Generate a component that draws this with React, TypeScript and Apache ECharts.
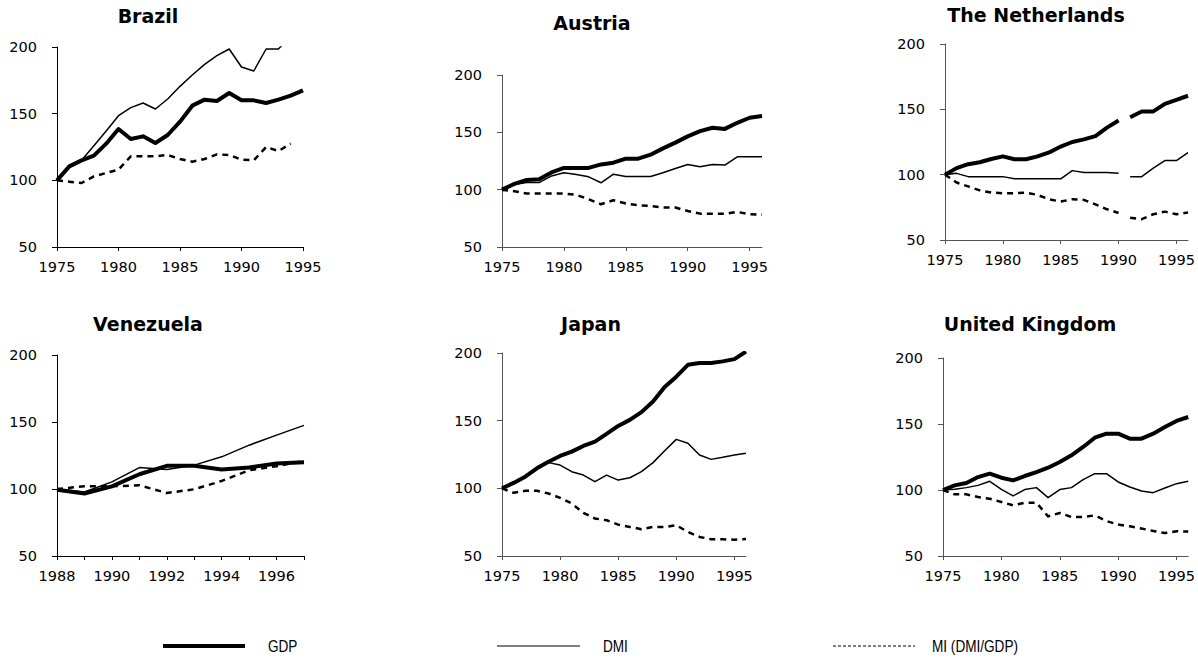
import React, { useEffect, useRef } from 'react';
import * as echarts from 'echarts';

// Year categories
const years7595 = ['1975','1976','1977','1978','1979','1980','1981','1982','1983','1984','1985','1986','1987','1988','1989','1990','1991','1992','1993','1994','1995'];
const years7596 = ['1975','1976','1977','1978','1979','1980','1981','1982','1983','1984','1985','1986','1987','1988','1989','1990','1991','1992','1993','1994','1995','1996'];
const years8897 = ['1988','1989','1990','1991','1992','1993','1994','1995','1996','1997'];

// Index values (base year = 100)
const brazilGdp = [100, 110.5, 115, 118.5, 127.5, 138.5, 131, 133, 128, 134, 144, 156, 160.5, 159.5, 165.5, 160, 160, 158, 160.5, 163.5, 167.5];
const brazilDmi = [100, 111, 115, 126, 137, 148.5, 154.5, 158, 153.5, 161, 170.5, 179, 187, 193.5, 198.5, 185, 182, 198.5, 198.5, 208, null];
const brazilMi = [100, 99, 98, 103, 105.5, 108, 118, 118, 118, 119, 116, 114, 116, 119.5, 119, 115.5, 115, 125, 122, 127.5, null];

const austriaGdp = [100, 105, 108.5, 109, 115, 119, 119, 119, 122, 123.5, 127, 127, 130.5, 136, 141, 146.5, 151, 154, 153, 158.3, 162.7, 164.2];
const austriaDmi = [100, 104.5, 106.2, 106.2, 112, 114.7, 113.2, 111.2, 106, 113.5, 111.5, 111.5, 111.5, 114.7, 118.4, 122, 120, 122, 121.5, 128.6, 128.6, 128.6];
const austriaMi = [100, 98.6, 96.6, 96.6, 96.6, 96.6, 95.5, 91.6, 87.3, 90.8, 87.9, 86.4, 85.8, 84.4, 84.4, 81.4, 79.1, 79.1, 79, 80.6, 78.5, 78.3];

const netherlandsGdp = [100, 105, 108, 109.5, 112, 114, 111.8, 111.8, 114, 117, 121.5, 125, 127, 129.5, 136, 141.5, 144, 148.4, 148.4, 154.2, 157.3, 160.4];
const netherlandsDmi = [100, 101, 98.5, 98.5, 98.5, 98.5, 96.8, 96.8, 96.8, 96.8, 96.8, 103.1, 101.6, 101.6, 101.6, 101, 98.5, 98.5, 105, 110.8, 110.8, 116.9];
const netherlandsMi = [100, 94, 91, 88, 86.3, 85.8, 85.8, 86.3, 84.5, 81.2, 79.4, 81.2, 80.7, 77.3, 73.5, 70.7, 67.1, 65.9, 69.7, 71.7, 69.7, 71];
// Series break: no segment is drawn between this year and the next
const netherlandsBreakYear = '1990';

const venezuelaGdp = [99.5, 96.6, 102, 111, 117.3, 117.3, 114.5, 116, 119, 120];
const venezuelaDmi = [100, 97.8, 105.3, 116, 114.5, 117.8, 124, 132.7, 140.2, 147.5];
const venezuelaMi = [100, 102, 102, 102.8, 97, 99.8, 106, 114, 117, 121];

const japanGdp = [100, 104, 108.6, 114.8, 119.7, 123.9, 127.1, 131.3, 134.5, 140.2, 146.1, 150.6, 156.3, 164.2, 174.8, 182.5, 191.3, 192.6, 192.6, 193.8, 195.5, 201];
const japanDmi = [100, 103.6, 108.6, 114.8, 119, 117.2, 112.3, 109.8, 104.9, 109.8, 106.1, 107.8, 112.3, 119, 127.8, 136.2, 133.3, 124.6, 121.4, 122.9, 124.6, 125.9];
const japanMi = [100, 96.7, 98.2, 98.2, 96.2, 93, 88.8, 81.9, 77.7, 76.4, 73.2, 71.5, 69.8, 71.5, 71.5, 72.7, 67.8, 64.1, 62.4, 62.4, 62, 62.6];

const ukGdp = [100, 103.5, 105.3, 109.8, 112.4, 109.3, 107.3, 110.6, 113.6, 116.9, 121.2, 126.3, 132.6, 139.6, 142.7, 142.7, 138.9, 138.9, 142.7, 147.7, 152.3, 155.3];
const ukDmi = [100, 100.5, 101.8, 103.5, 106.6, 100.5, 95.5, 100.3, 101.8, 94.2, 100.3, 101.8, 107.8, 112.4, 112.4, 106.1, 102.3, 99.2, 98, 101.5, 104.8, 106.6];
const ukMi = [100, 96.7, 96.7, 94.7, 93.4, 90.9, 88.4, 90.4, 90.4, 80, 82.6, 79.5, 79.5, 80.8, 76.5, 73.8, 72.5, 70.8, 69, 67.4, 68.7, 68.6];

const yTicks = { min: 50, max: 200, interval: 50 };
const seriesNames = ['GDP', 'DMI', 'MI (DMI/GDP)'];

const TICK_FONT = '"DejaVu Sans", sans-serif';

type Panel = {
  title: string;
  years: string[];
  values: (number | null)[][];
  breakYear?: string;
  rect: { left: number; top: number; width: number; height: number };
  titlePos: [number, number];
  tickEvery: number;
  labelEvery: number;
  axisColor: string;
};

const panels: Panel[] = [
  { title: 'Brazil', years: years7595, values: [brazilGdp, brazilDmi, brazilMi],
    rect: { left: 57, top: 47, width: 246, height: 200 }, titlePos: [148, 15.5], tickEvery: 5, labelEvery: 5, axisColor: '#000' },
  { title: 'Austria', years: years7596, values: [austriaGdp, austriaDmi, austriaMi],
    rect: { left: 502, top: 75, width: 260, height: 172 }, titlePos: [592, 22.5], tickEvery: 5, labelEvery: 5, axisColor: '#555' },
  { title: 'The Netherlands', years: years7596, values: [netherlandsGdp, netherlandsDmi, netherlandsMi], breakYear: netherlandsBreakYear,
    rect: { left: 945, top: 44, width: 243, height: 196 }, titlePos: [1036, 15], tickEvery: 5, labelEvery: 5, axisColor: '#555' },
  { title: 'Venezuela', years: years8897, values: [venezuelaGdp, venezuelaDmi, venezuelaMi],
    rect: { left: 57, top: 355, width: 247, height: 201 }, titlePos: [148, 324], tickEvery: 1, labelEvery: 2, axisColor: '#000' },
  { title: 'Japan', years: years7596, values: [japanGdp, japanDmi, japanMi],
    rect: { left: 502, top: 353, width: 244, height: 203 }, titlePos: [591, 324], tickEvery: 5, labelEvery: 5, axisColor: '#555' },
  { title: 'United Kingdom', years: years7596, values: [ukGdp, ukDmi, ukMi],
    rect: { left: 943, top: 358, width: 248, height: 198 }, titlePos: [1030, 324], tickEvery: 5, labelEvery: 5, axisColor: '#555' },
];

const lineStyles = [
  { color: '#000', width: 4, type: 'solid' as any },
  { color: '#000', width: 1.5, type: 'solid' as any },
  { color: '#000', width: 2.5, type: [6, 5] as any },
];

function buildOption() {
  const grid: any[] = [];
  const xAxis: any[] = [];
  const yAxis: any[] = [];
  const series: any[] = [];
  const graphic: any[] = [];

  panels.forEach((p, i) => {
    grid.push({ ...p.rect, containLabel: false });
    xAxis.push({
      gridIndex: i,
      type: 'category',
      data: p.years,
      boundaryGap: false,
      axisLine: { lineStyle: { color: p.axisColor, width: 1 } },
      axisTick: {
        show: true,
        length: 4,
        interval: (_idx: number, val: string) => Number(val) % p.tickEvery === 0,
        lineStyle: { color: p.axisColor },
      },
      axisLabel: {
        interval: (_idx: number, val: string) => Number(val) % p.labelEvery === 0,
        margin: 12,
        fontFamily: TICK_FONT,
        fontSize: 14.5,
        color: '#000',
      },
      splitLine: { show: false },
    });
    yAxis.push({
      gridIndex: i,
      type: 'value',
      ...yTicks,
      axisLine: { show: true, lineStyle: { color: p.axisColor, width: 1 } },
      axisTick: { show: true, length: 5, lineStyle: { color: p.axisColor } },
      axisLabel: { margin: 20, fontFamily: TICK_FONT, fontSize: 14.5, color: '#000' },
      splitLine: { show: false },
    });

    // draw the dashed index first, the thick GDP line last
    [2, 1, 0].forEach((k) => {
      const vals = p.values[k];
      const segments: (number | null)[][] = [];
      if (p.breakYear) {
        const cut = p.years.indexOf(p.breakYear);
        segments.push(vals.map((v, j) => (j <= cut ? v : null)));
        segments.push(vals.map((v, j) => (j > cut ? v : null)));
      } else {
        segments.push(vals);
      }
      segments.forEach((data) => {
        series.push({
          name: seriesNames[k],
          type: 'line',
          xAxisIndex: i,
          yAxisIndex: i,
          data,
          symbol: 'none',
          showSymbol: false,
          connectNulls: false,
          clip: true,
          silent: true,
          z: 3 - k,
          lineStyle: { ...lineStyles[k], join: 'round', cap: 'butt' },
        });
      });
    });

    graphic.push({
      type: 'text',
      x: p.titlePos[0],
      y: p.titlePos[1],
      style: {
        text: p.title,
        font: 'bold 19px "DejaVu Sans", sans-serif',
        fill: '#000',
        align: 'center',
        verticalAlign: 'middle',
      },
    });
  });

  // Legend row
  const legendY = 646;
  const legendItems = [
    { x1: 163, x2: 245, tx: 268, width: 4, dash: null as any, label: seriesNames[0] },
    { x1: 497, x2: 580, tx: 603, width: 1, dash: null as any, label: seriesNames[1] },
    { x1: 833, x2: 915, tx: 932, width: 1, dash: [3, 2], label: seriesNames[2] },
  ];
  legendItems.forEach((it) => {
    graphic.push({
      type: 'line',
      shape: { x1: it.x1, y1: legendY, x2: it.x2, y2: legendY },
      style: { stroke: '#000', lineWidth: it.width, lineDash: it.dash },
    });
    graphic.push({
      type: 'text',
      x: it.tx,
      y: legendY,
      scaleX: 0.8,
      style: {
        text: it.label,
        font: '17px "Liberation Sans", Arial, sans-serif',
        fill: '#000',
        align: 'left',
        verticalAlign: 'middle',
      },
    });
  });

  return {
    animation: false,
    backgroundColor: '#fff',
    grid,
    xAxis,
    yAxis,
    series,
    graphic,
  };
}

export default function App() {
  const ref = useRef<HTMLDivElement>(null);
  useEffect(() => {
    if (!ref.current) return;
    const chart = echarts.init(ref.current, undefined, { renderer: 'svg' });
    chart.setOption(buildOption() as any);
    return () => chart.dispose();
  }, []);
  return (
    <div
      ref={ref}
      style={{ position: 'absolute', left: 0, top: 0, width: 1198, height: 659, background: '#fff' }}
    />
  );
}
